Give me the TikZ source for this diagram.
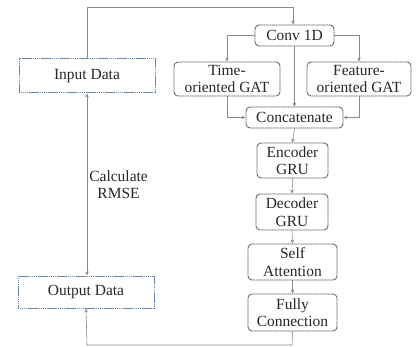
\documentclass[tikz,border=0pt]{standalone}
\usepackage{fontspec}
\setmainfont{Liberation Serif}
\usetikzlibrary{arrows.meta}
\definecolor{boxline}{HTML}{555555}
\definecolor{dataline}{HTML}{6A86AE}
\definecolor{conn}{HTML}{8A8A8A}
\begin{document}
\begin{tikzpicture}[x=1pt,y=-1pt,
  every node/.style={font=\fontsize{15.5}{17.5}\selectfont, text=black!85, inner sep=0pt, align=center},
  blk/.style={draw=boxline, line width=0.9pt, dash pattern=on 1.4pt off 0.5pt, rounded corners=4pt},
  databox/.style={draw=dataline, line width=1pt, dash pattern=on 1.4pt off 0.5pt},
  conn/.style={draw=conn, line width=0.6pt, -{Stealth[length=4pt,width=3.5pt]}},
  connboth/.style={draw=conn, line width=0.6pt, {Stealth[length=4pt,width=3.5pt]}-{Stealth[length=4pt,width=3.5pt]}}
]
\useasboundingbox (0,0) rectangle (417,347);
% data boxes
\node[databox, minimum width=136pt, minimum height=34pt] (in) at (87,76) {Input Data};
\node[databox, minimum width=136pt, minimum height=32pt] (out) at (86,292) {Output Data};
% model blocks
\node[blk, minimum width=79pt, minimum height=21pt] (conv) at (294.5,35.5) {Conv 1D};
\node[blk, minimum width=106pt, minimum height=34pt] (tgat) at (227,79) {Time-\\oriented GAT};
\node[blk, minimum width=104pt, minimum height=34pt] (fgat) at (359,79) {Feature-\\oriented GAT};
\node[blk, minimum width=97pt, minimum height=21pt] (cat) at (294.5,117.5) {Concatenate};
\node[blk, minimum width=71pt, minimum height=35pt] (enc) at (292.5,160.5) {Encoder\\GRU};
\node[blk, minimum width=72pt, minimum height=36pt] (dec) at (292,212) {Decoder\\GRU};
\node[blk, minimum width=89pt, minimum height=36pt] (att) at (292.5,262) {Self\\Attention};
\node[blk, minimum width=89pt, minimum height=37pt] (fc) at (292.5,312.5) {Fully\\Connection};
% helper coordinates
\coordinate (tl) at (87,7);
\coordinate (tr) at (293,7);
\coordinate (bl) at (87,345);
\coordinate (br) at (292,345);
% connectors
\draw[conn] (in.north) -- (tl) -- (tr) -- (tr |- conv.north);
\draw[conn] (conv.west) -| (tgat.north);
\draw[conn] (conv.east) -| (fgat.north);
\draw[conn] (conv.south) -- (cat.north);
\draw[conn] (tgat.south) |- (cat.west);
\draw[conn] (fgat.south) |- (cat.east);
\draw[conn] (cat.south) -- (enc.north);
\draw[conn] (enc.south) -- (dec.north);
\draw[conn] (dec.south) -- (att.north);
\draw[conn] (att.south) -- (fc.north);
\draw[conn] (fc.south) -- (br) -- (bl) -- (out.south);
\draw[connboth] (in.south) -- (in.south |- out.north) node[pos=0.5, right=2pt] (rmse) {Calculate\\RMSE};
\end{tikzpicture}
\end{document}
